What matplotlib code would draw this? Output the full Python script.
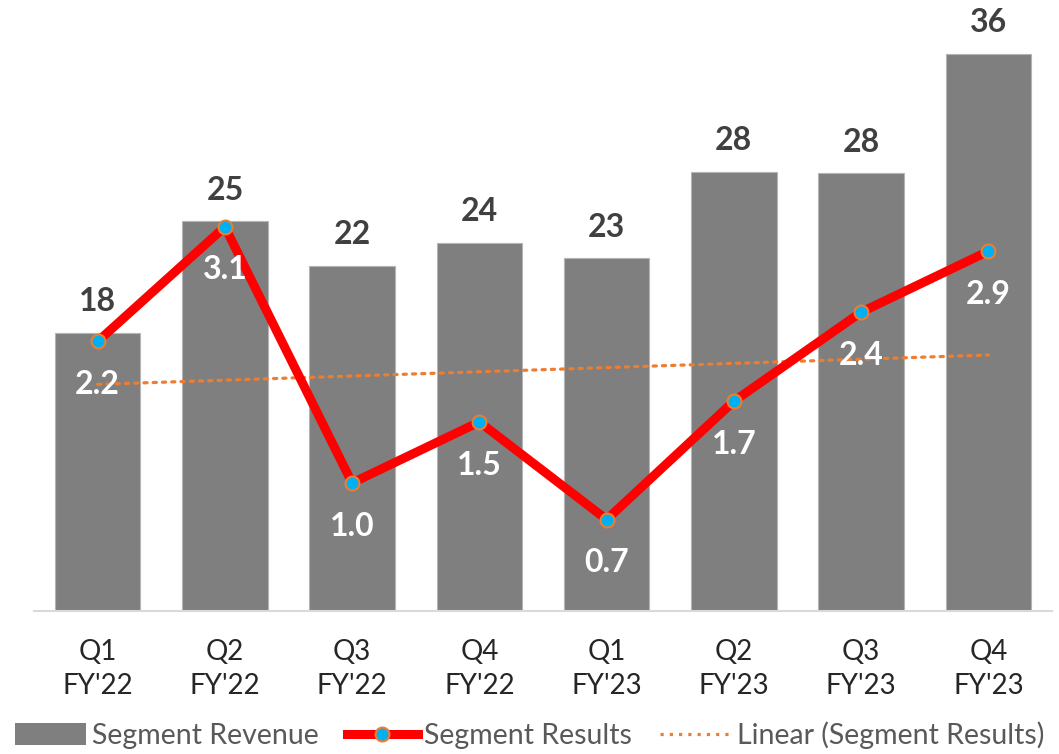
import matplotlib.pyplot as plt
import numpy as np
from matplotlib.patches import Patch
from matplotlib.lines import Line2D

# data
quarters = ["Q1\nFY'22", "Q2\nFY'22", "Q3\nFY'22", "Q4\nFY'22",
            "Q1\nFY'23", "Q2\nFY'23", "Q3\nFY'23", "Q4\nFY'23"]
revenue = [18.0, 25.2, 22.3, 23.8, 22.8, 28.4, 28.3, 36.0]
results = [2.16, 3.1, 1.0, 1.5, 0.7, 1.67, 2.4, 2.9]
result_labels = ['2.2', '3.1', '1.0', '1.5', '0.7', '1.7', '2.4', '2.9']

plt.rcParams['font.family'] = ['Lato', 'DejaVu Sans']

fig = plt.figure(figsize=(10.59, 7.54), dpi=100)
ax = fig.add_axes([34 / 1059, 143 / 754, 1018 / 1059, 611 / 754])
x = np.arange(len(quarters))

# bars - segment revenue
ax.bar(x, revenue, width=0.67, color='#7f7f7f', edgecolor='#b5b5b5', linewidth=0.8, zorder=2)
ax.set_xlim(-0.5, len(quarters) - 0.5)
ax.set_ylim(0, 39.5)
for xi, v in zip(x, revenue):
    ax.annotate(f'{v:.0f}', (xi, v), xytext=(0, 12), textcoords='offset points',
                ha='center', va='bottom', fontsize=23, fontweight='bold', color='#404040')

for s in ['top', 'left', 'right']:
    ax.spines[s].set_visible(False)
ax.spines['bottom'].set_color('#d9d9d9')
ax.spines['bottom'].set_linewidth(1.5)
ax.set_yticks([])
ax.set_xticks(x)
ax.set_xticklabels(quarters, fontsize=20, color='#262626', linespacing=1.4)
ax.tick_params(axis='x', length=0, pad=20)

# secondary axis - segment results
ax2 = ax.twinx()
ax2.set_ylim(-0.05, 4.96)
ax2.set_yticks([])
for s in ax2.spines.values():
    s.set_visible(False)
ax2.plot(x, results, color='#ff0000', linewidth=6.5, marker='o', markersize=10,
         markerfacecolor='#00b0f0', markeredgecolor='#ed7d31', markeredgewidth=1.5, zorder=3)

# linear trendline
coef = np.polyfit(x, results, 1)
ax2.plot(x, np.polyval(coef, x), color='#ed7d31', linewidth=2.3, linestyle=(0, (1, 1.9)),
         dash_capstyle='round', zorder=2)

for xi, v, lab in zip(x, results, result_labels):
    ax2.annotate(lab, (xi, v), xytext=(0, -31), textcoords='offset points',
                 ha='center', va='center', fontsize=23, fontweight='bold', color='white', zorder=4)

handles = [
    Patch(facecolor='#7f7f7f', edgecolor='none'),
    Line2D([], [], color='#ff0000', linewidth=6.5, marker='o', markersize=10,
           markerfacecolor='#00b0f0', markeredgecolor='#ed7d31', markeredgewidth=1.5),
    Line2D([], [], color='#ed7d31', linewidth=2.3, linestyle=(0, (1, 1.9))),
]
labels = ['Segment Revenue', 'Segment Results', 'Linear (Segment Results)']
fig.legend(handles, labels, loc='center', bbox_to_anchor=(0.5, 0.025), ncol=3,
           frameon=False, fontsize=20.5, labelcolor='#595959', handlelength=2.5,
           handletextpad=0.2, columnspacing=1.0, handleheight=0.8)

fig.savefig('out.png', dpi=100)
